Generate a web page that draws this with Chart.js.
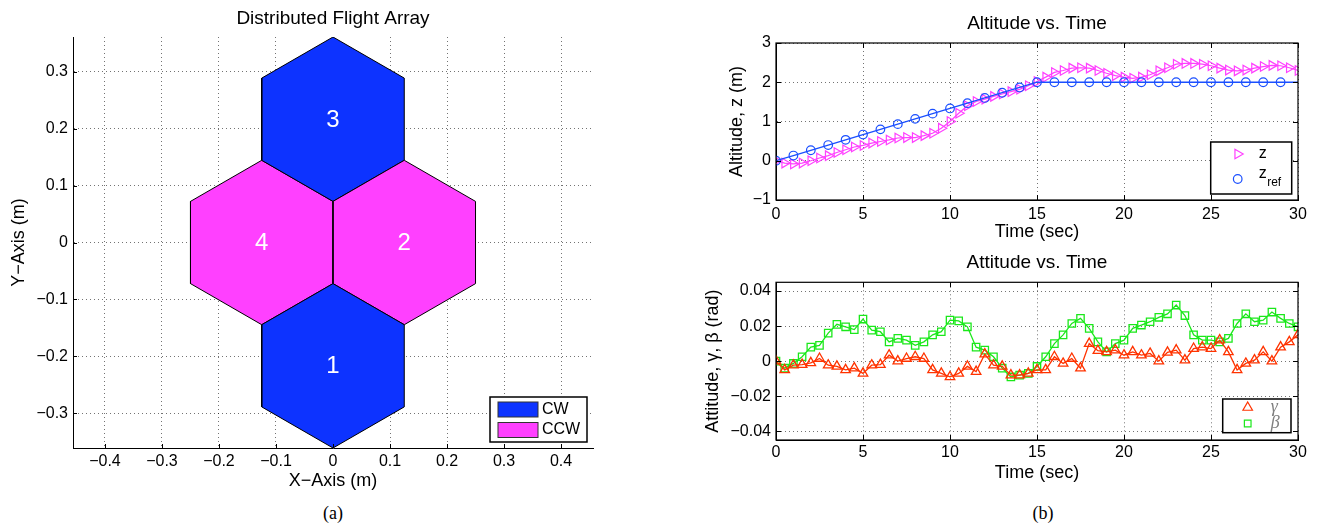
<!DOCTYPE html>
<html>
<head>
<meta charset="utf-8">
<script src="https://cdn.jsdelivr.net/npm/chart.js@4.4.1/dist/chart.umd.min.js"></script>
<style>
    html, body { margin: 0; padding: 0; background: #fff; }
    body { width: 1318px; height: 529px; position: relative; overflow: hidden; }
    canvas { position: absolute; }
    .caption { position: absolute; font: 18px "Liberation Serif", "Times New Roman", serif; line-height: 1; transform: translate(-50%, -50%); }
</style>
</head>
<body>
<canvas id="flight_array" width="620" height="500" style="left:0px;top:0px"></canvas>
<canvas id="altitude" width="678" height="250" style="left:640px;top:0px"></canvas>
<canvas id="attitude" width="678" height="250" style="left:640px;top:240px"></canvas>
<div class="caption" style="left:333px;top:513px">(a)</div>
<div class="caption" style="left:1043px;top:513px">(b)</div>

<script>
// ---- (a) flight array layout ----
var hex_numbers = ["1", "2", "3", "4"];
var hex_center_x = [0, 0.125, 0, -0.125];
var hex_center_y = [-0.2165, 0, 0.2165, 0];
var hex_direction = ["CW", "CCW", "CW", "CCW"];
var hex_radius = 0.1443;

var array_x_ticks = [-0.4, -0.3, -0.2, -0.1, 0, 0.1, 0.2, 0.3, 0.4];
var array_y_ticks = [-0.3, -0.2, -0.1, 0, 0.1, 0.2, 0.3];

// ---- (b) altitude / attitude ----
var time_ticks = [0, 5, 10, 15, 20, 25, 30];
var altitude_ticks = [-1, 0, 1, 2, 3];
var attitude_ticks = [-0.04, -0.02, 0, 0.02, 0.04];

var time_ref = [0, 1, 2, 3, 4, 5, 6, 7, 8, 9, 10, 11, 12, 13, 14, 15, 16, 17, 18, 19, 20, 21, 22, 23, 24, 25, 26, 27, 28, 29, 30];
var z_ref = [0, 0.133, 0.267, 0.4, 0.533, 0.667, 0.8, 0.933, 1.067, 1.2, 1.333, 1.467, 1.6, 1.733, 1.867, 2,
             2, 2, 2, 2, 2, 2, 2, 2, 2, 2, 2, 2, 2, 2, 2];

var time_meas = [0, 0.5, 1, 1.5, 2, 2.5, 3, 3.5, 4, 4.5, 5, 5.5, 6, 6.5, 7, 7.5, 8, 8.5, 9, 9.5,
                 10, 10.5, 11, 11.5, 12, 12.5, 13, 13.5, 14, 14.5, 15, 15.5, 16, 16.5, 17, 17.5, 18, 18.5, 19, 19.5,
                 20, 20.5, 21, 21.5, 22, 22.5, 23, 23.5, 24, 24.5, 25, 25.5, 26, 26.5, 27, 27.5, 28, 28.5, 29, 29.5, 30];
var z_meas = [0, -0.06, -0.08, -0.06, 0, 0.07, 0.13, 0.21, 0.28, 0.35, 0.39, 0.45, 0.49, 0.53, 0.58, 0.59, 0.59, 0.64, 0.70, 0.83,
              1.0, 1.21, 1.40, 1.51, 1.57, 1.64, 1.70, 1.76, 1.82, 1.91, 2.02, 2.13, 2.25, 2.30, 2.36, 2.37, 2.36, 2.30, 2.23, 2.17,
              2.13, 2.10, 2.13, 2.19, 2.29, 2.37, 2.46, 2.48, 2.48, 2.46, 2.42, 2.36, 2.31, 2.29, 2.31, 2.36, 2.40, 2.43, 2.42, 2.37, 2.30];
var gamma_meas = [0, -0.005, -0.0023, -0.002, -0.001, 0.0015, -0.0023, -0.003, -0.005, -0.004, -0.007, -0.0023, -0.002, 0.0034, 0, 0.0015, 0.0025, 0.0015, -0.005, -0.007,
                  -0.009, -0.007, -0.003, -0.006, 0.004, -0.0023, -0.003, -0.008, -0.008, -0.007, -0.005, -0.005, 0.0025, -0.0013, 0.0015, -0.004, 0.010, 0.006, 0.0053, 0.0063,
                  0.0034, 0.0053, 0.0034, 0.0044, 0, 0.005, 0.0063, 0.0006, 0.0072, 0.008, 0.0072, 0.012, 0.0053, -0.005, -0.0013, 0.0006, 0.0053, 0, 0.008, 0.011, 0.015];
var beta_meas = [0, -0.004, -0.0013, 0.0025, 0.008, 0.009, 0.016, 0.021, 0.0196, 0.018, 0.024, 0.0177, 0.0168, 0.011, 0.013, 0.012, 0.009, 0.011, 0.015, 0.0168,
                 0.0234, 0.023, 0.0196, 0.008, 0.0063, 0.0025, -0.004, -0.009, -0.008, -0.007, -0.003, 0.0025, 0.010, 0.015, 0.0215, 0.0244, 0.0187, 0.011, 0.0053, 0.010,
                 0.012, 0.0187, 0.0206, 0.0225, 0.025, 0.027, 0.032, 0.026, 0.015, 0.012, 0.012, 0.011, 0.013, 0.0215, 0.027, 0.0225, 0.0234, 0.028, 0.0244, 0.0215, 0.0196];

var direction_colors = {CW: "#0d33ff", CCW: "#ff40ff"};
var z_color = "#ff40ff";
var z_ref_color = "#1a4fff";
var gamma_color = "#ff3300";
var beta_color = "#1ae81a";

Chart.defaults.font.family = '"Liberation Sans", Arial, Helvetica, sans-serif';
Chart.defaults.font.size = 16;
Chart.defaults.color = "#000";


function matlab_tick(value) {
    var text = String(Math.round(value * 10000) / 10000);
    return text.replace("-", "\u2212");
}

function to_points(xs, ys) {
    var points = [];
    for (var i = 0; i < xs.length; i++) {
        points.push({x: xs[i], y: ys[i]});
    }
    return points;
}

function hexagon_points(cx, cy) {
    //pointy-top hexagon, closed
    var points = [];
    for (var k = 0; k <= 6; k++) {
        var angle = Math.PI / 2 + k * Math.PI / 3;
        points.push({x: cx + hex_radius * Math.cos(angle), y: cy + hex_radius * Math.sin(angle)});
    }
    return points;
}

function axis_options(min, max, tick_values, title, title_pad, tick_pad, size) {
    return {
        type: "linear",
        min: min,
        max: max,
        afterBuildTicks: function(scale) {
            scale.ticks = tick_values.map(function(v) { return {value: v}; });
        },
        afterFit: function(scale) {
            if (scale.isHorizontal()) {
                scale.height = size;
            } else {
                scale.width = size;
            }
        },
        ticks: {padding: tick_pad, callback: matlab_tick, autoSkip: false, maxRotation: 0, color: "#000", font: {size: 16}},
        grid: {color: "rgba(0,0,0,0.55)", lineWidth: 1, drawTicks: false},
        border: {display: true, color: "#000", width: 1, dash: [1, 3]},
        title: {display: true, text: title, color: "#000", font: {size: 18}, padding: {top: title_pad, bottom: title_pad}}
    };
}

function title_options(text, pad_top, pad_bottom) {
    return {display: true, text: text, fullSize: false, color: "#000",
            font: {size: 19, weight: "normal"}, padding: {top: pad_top, bottom: pad_bottom}};
}

function draw_marker(ctx, style, x, y, r, rotation) {
    var rad = (rotation || 0) * Math.PI / 180;
    ctx.beginPath();
    if (style === "circle") {
        ctx.arc(x, y, r, 0, 2 * Math.PI);
    } else if (style === "triangle") {
        for (var k = 0; k < 3; k++) {
            var a = rad + k * 2 * Math.PI / 3;
            var px = x + Math.sin(a) * r;
            var py = y - Math.cos(a) * r;
            if (k === 0) ctx.moveTo(px, py); else ctx.lineTo(px, py);
        }
        ctx.closePath();
    } else {
        var s = r * Math.SQRT1_2;
        ctx.rect(x - s, y - s, 2 * s, 2 * s);
    }
    ctx.stroke();
}

//matlab-like inward ticks and optional full box
function make_matlab_axes(tick_length, box) {
    return {
        id: "matlab_axes",
        afterDatasetsDraw: function(chart) {
            var ctx = chart.ctx;
            var area = chart.chartArea;
            var x_scale = chart.scales.x;
            var y_scale = chart.scales.y;

            ctx.save();
            ctx.strokeStyle = "#000";
            ctx.lineWidth = 1;
            ctx.beginPath();
            for (var tick of x_scale.ticks) {
                var px = Math.round(x_scale.getPixelForValue(tick.value)) + 0.5;
                ctx.moveTo(px, area.bottom);
                ctx.lineTo(px, area.bottom - tick_length);
                if (box) {
                    ctx.moveTo(px, area.top);
                    ctx.lineTo(px, area.top + tick_length);
                }
            }
            for (var tick of y_scale.ticks) {
                var py = Math.round(y_scale.getPixelForValue(tick.value)) + 0.5;
                ctx.moveTo(area.left, py);
                ctx.lineTo(area.left + tick_length, py);
                if (box) {
                    ctx.moveTo(area.right, py);
                    ctx.lineTo(area.right - tick_length, py);
                }
            }
            ctx.stroke();

            if (box) {
                ctx.lineWidth = 1.2;
                ctx.strokeRect(area.left, area.top, area.right - area.left, area.bottom - area.top);
            }
            ctx.restore();
        }
    };
}

//legend box in the lower right corner of the plot area
function make_box_legend(spec) {
    return {
        id: "box_legend",
        afterDraw: function(chart) {
            var ctx = chart.ctx;
            var area = chart.chartArea;
            var left = area.right - spec.right_inset - spec.width;
            var top = area.bottom - spec.bottom_inset - spec.height;

            ctx.save();
            ctx.fillStyle = "#fff";
            ctx.fillRect(left, top, spec.width, spec.height);
            ctx.strokeStyle = "#000";
            ctx.lineWidth = 1.5;
            ctx.strokeRect(left, top, spec.width, spec.height);

            for (var item of spec.items) {
                var cy = top + item.dy;
                if (item.marker === "swatch") {
                    ctx.fillStyle = item.color;
                    ctx.fillRect(left + spec.marker_dx, cy - 7.5, 40, 15);
                    ctx.strokeStyle = "#333";
                    ctx.lineWidth = 1;
                    ctx.strokeRect(left + spec.marker_dx, cy - 7.5, 40, 15);
                } else {
                    ctx.strokeStyle = item.color;
                    ctx.lineWidth = 1.2;
                    draw_marker(ctx, item.marker, left + spec.marker_dx, cy, item.radius, item.rotation);
                }

                ctx.fillStyle = spec.text_color;
                ctx.font = spec.font;
                ctx.textAlign = "left";
                ctx.textBaseline = "middle";
                var tx = left + spec.text_dx;
                if (item.sub) {
                    ctx.fillText(item.label, tx, cy - 5);
                    var w = ctx.measureText(item.label).width;
                    ctx.font = '12px "Liberation Sans", Arial, sans-serif';
                    ctx.fillText(item.sub, tx + w + 0.5, cy + 4);
                } else {
                    ctx.fillText(item.label, tx, cy);
                }
            }
            ctx.restore();
        }
    };
}

//rotor numbers in the hexagons
var hex_number_labels = {
    id: "hex_number_labels",
    afterDatasetsDraw: function(chart) {
        var ctx = chart.ctx;
        ctx.save();
        ctx.fillStyle = "#fff";
        ctx.font = '24px "Liberation Sans", Arial, sans-serif';
        ctx.textAlign = "center";
        ctx.textBaseline = "middle";
        for (var i = 0; i < hex_numbers.length; i++) {
            var px = chart.scales.x.getPixelForValue(hex_center_x[i]);
            var py = chart.scales.y.getPixelForValue(hex_center_y[i]);
            ctx.fillText(hex_numbers[i], px, py + 1);
        }
        ctx.restore();
    }
};


// ---- chart (a) ----
var hex_datasets = [];
for (var i = 0; i < hex_numbers.length; i++) {
    hex_datasets.push({
        label: hex_numbers[i],
        data: hexagon_points(hex_center_x[i], hex_center_y[i]),
        showLine: true,
        fill: "shape",
        backgroundColor: direction_colors[hex_direction[i]],
        borderColor: "#000",
        borderWidth: 1,
        pointRadius: 0,
        tension: 0
    });
}

var array_x_axis = axis_options(-0.456, 0.456, array_x_ticks, "X\u2212Axis (m)", 0, 4.4, 44.3);
var array_y_axis = axis_options(-0.3608, 0.3608, array_y_ticks, "Y\u2212Axis (m)", 8.2, 5, 73);

new Chart(document.getElementById("flight_array"), {
    type: "scatter",
    data: {datasets: hex_datasets},
    options: {
        responsive: false,
        animation: false,
        devicePixelRatio: 1,
        events: [],
        layout: {padding: {left: 0, right: 27, top: 0, bottom: 7.7}},
        scales: {x: array_x_axis, y: array_y_axis},
        plugins: {
            legend: {display: false},
            tooltip: {enabled: false},
            title: title_options("Distributed Flight Array", 7.1, 7.1)
        }
    },
    plugins: [
        hex_number_labels,
        make_matlab_axes(4, false),
        make_box_legend({
            width: 97, height: 45, right_inset: 6, bottom_inset: 6,
            marker_dx: 8, text_dx: 52,
            font: '16px "Liberation Sans", Arial, sans-serif', text_color: "#000",
            items: [
                {marker: "swatch", color: direction_colors.CW, label: "CW", dy: 12.5},
                {marker: "swatch", color: direction_colors.CCW, label: "CCW", dy: 33}
            ]
        })
    ]
});


// ---- chart (b) top: altitude ----
new Chart(document.getElementById("altitude"), {
    type: "scatter",
    data: {
        datasets: [
            {
                label: "z_ref",
                data: to_points(time_ref, z_ref),
                showLine: true,
                borderColor: z_ref_color,
                borderWidth: 1.3,
                pointStyle: "circle",
                pointRadius: function(ctx) { return ctx.dataIndex === time_ref.length - 1 ? 0 : 4.3; },
                pointBorderColor: z_ref_color,
                pointBackgroundColor: "rgba(0,0,0,0)",
                pointBorderWidth: 1.2
            },
            {
                label: "z",
                data: to_points(time_meas, z_meas),
                showLine: true,
                borderColor: z_color,
                borderWidth: 1.2,
                pointStyle: "triangle",
                pointRotation: 90,
                pointRadius: 5.5,
                pointBorderColor: z_color,
                pointBackgroundColor: "rgba(0,0,0,0)",
                pointBorderWidth: 1.2
            }
        ]
    },
    options: {
        responsive: false,
        animation: false,
        devicePixelRatio: 1,
        events: [],
        layout: {padding: {left: 86, right: 20, top: 0, bottom: 7.2}},
        scales: {
            x: axis_options(0, 30, time_ticks, "Time (sec)", 0, 5.4, 42.8),
            y: axis_options(-1, 3, altitude_ticks, "Altitude, z (m)", 0.2, 5, 50)
        },
        plugins: {
            legend: {display: false},
            tooltip: {enabled: false},
            title: title_options("Altitude vs. Time", 11.9, 8.3)
        }
    },
    plugins: [
        make_matlab_axes(5, true),
        make_box_legend({
            width: 81, height: 52, right_inset: 6.3, bottom_inset: 6,
            marker_dx: 27, text_dx: 48,
            font: '16px "Liberation Sans", Arial, sans-serif', text_color: "#000",
            items: [
                {marker: "triangle", rotation: 90, radius: 5.5, color: z_color, label: "z", dy: 12},
                {marker: "circle", radius: 4.3, color: z_ref_color, label: "z", sub: "ref", dy: 37}
            ]
        })
    ]
});


// ---- chart (b) bottom: attitude ----
new Chart(document.getElementById("attitude"), {
    type: "scatter",
    data: {
        datasets: [
            {
                label: "gamma",
                data: to_points(time_meas, gamma_meas),
                showLine: true,
                borderColor: gamma_color,
                borderWidth: 1.3,
                pointStyle: "triangle",
                pointRadius: 5.5,
                pointBorderColor: gamma_color,
                pointBackgroundColor: "rgba(0,0,0,0)",
                pointBorderWidth: 1.3
            },
            {
                label: "beta",
                data: to_points(time_meas, beta_meas),
                showLine: true,
                borderColor: beta_color,
                borderWidth: 1.3,
                pointStyle: "rect",
                pointRadius: 5.2,
                pointBorderColor: beta_color,
                pointBackgroundColor: "rgba(0,0,0,0)",
                pointBorderWidth: 1.3
            }
        ]
    },
    options: {
        responsive: false,
        animation: false,
        devicePixelRatio: 1,
        events: [],
        layout: {padding: {left: 62, right: 20, top: 0, bottom: 6.2}},
        scales: {
            x: axis_options(0, 30, time_ticks, "Time (sec)", 0, 3.4, 43.8),
            y: axis_options(-0.045, 0.045, attitude_ticks, "Attitude, \u03b3, \u03b2 (rad)", 0.2, 5, 74)
        },
        plugins: {
            legend: {display: false},
            tooltip: {enabled: false},
            title: title_options("Attitude vs. Time", 11.6, 7.9)
        }
    },
    plugins: [
        make_matlab_axes(5, true),
        make_box_legend({
            width: 68.3, height: 33.7, right_inset: 7, bottom_inset: 7.3,
            marker_dx: 25, text_dx: 48,
            font: 'italic 18px "Liberation Serif", "Times New Roman", serif', text_color: "#808080",
            items: [
                {marker: "triangle", rotation: 0, radius: 5.5, color: gamma_color, label: "\u03b3", dy: 8.5},
                {marker: "rect", rotation: 0, radius: 4.7, color: beta_color, label: "\u03b2", dy: 24.5}
            ]
        })
    ]
});
</script>
</body>
</html>
